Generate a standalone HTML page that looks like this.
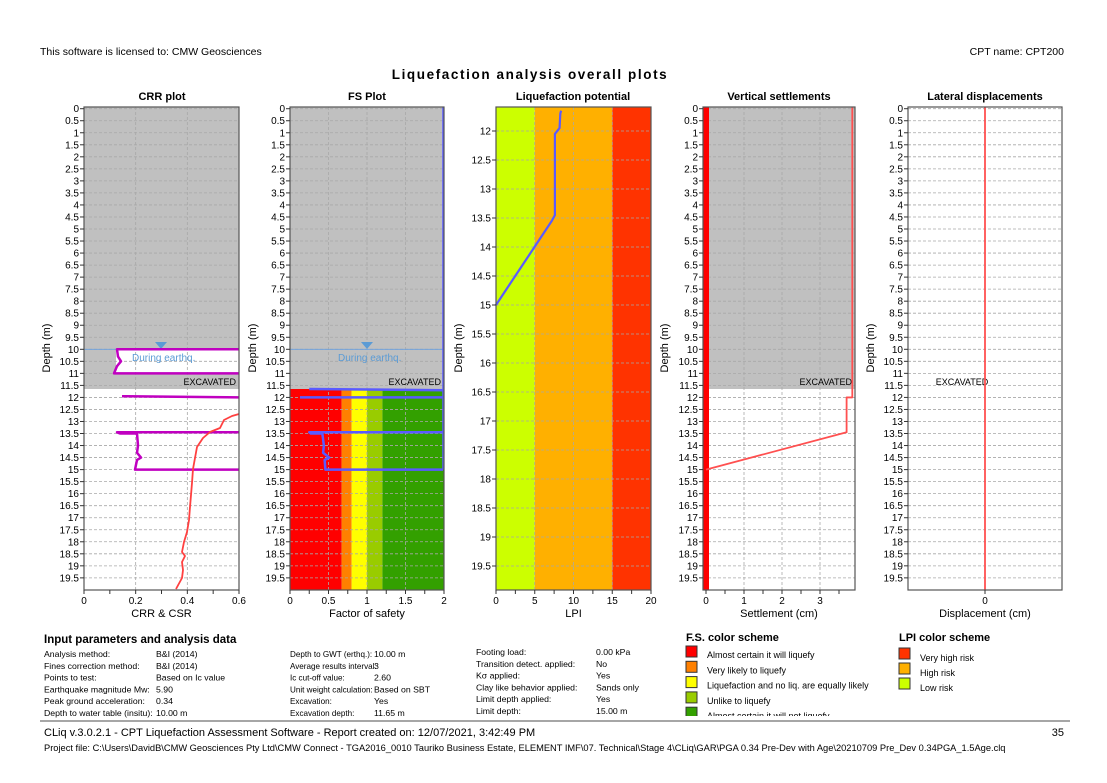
<!DOCTYPE html>
<html><head><meta charset="utf-8"><style>
html,body{margin:0;padding:0;background:#fff;}
svg{display:block;font-family:"Liberation Sans","DejaVu Sans",sans-serif;}
</style></head><body>
<svg id="s" width="1107" height="783" viewBox="0 0 1107 783" xmlns="http://www.w3.org/2000/svg">
<text x="40" y="55" font-size="10.5">This software is licensed to: CMW Geosciences</text>
<text x="1064" y="55" font-size="10.5" text-anchor="end">CPT name: CPT200</text>
<text x="530" y="79" font-size="13.5" font-weight="bold" text-anchor="middle" letter-spacing="1.6">Liquefaction analysis overall plots</text>
<g id="g"></g>
<g font-size="10">
<text x="44" y="643" font-size="11.5" font-weight="bold">Input parameters and analysis data</text>
<g id="params"></g>
<text x="686" y="641" font-size="11" font-weight="bold">F.S. color scheme</text>
<text x="899" y="641" font-size="11" font-weight="bold">LPI color scheme</text>
</g>
<line x1="40" y1="721" x2="1070" y2="721" stroke="#888" stroke-width="1.5"/>
<text x="44" y="736" font-size="11">CLiq v.3.0.2.1 - CPT Liquefaction Assessment Software - Report created on: 12/07/2021, 3:42:49 PM</text>
<text x="1064" y="736" font-size="11" text-anchor="end">35</text>
<text x="44" y="751" font-size="9.3">Project file: C:\Users\DavidB\CMW Geosciences Pty Ltd\CMW Connect - TGA2016_0010 Tauriko Business Estate, ELEMENT IMF\07. Technical\Stage 4\CLiq\GAR\PGA 0.34 Pre-Dev with Age\20210709 Pre_Dev 0.34PGA_1.5Age.clq</text>
</svg>
<script>
const NS="http://www.w3.org/2000/svg";
const G=document.getElementById('g');
function el(t,a,p){const e=document.createElementNS(NS,t);for(const k in a)e.setAttribute(k,a[k]);(p||G).appendChild(e);return e;}
function tx(x,y,s,a){const e=el('text',Object.assign({x:x,y:y,'font-size':10},a||{}));e.textContent=s;return e;}
const T=107,B=590;
function yd(d){return 108.7+24.06*d;}
function yl(d){return 131+58*(d-12);}
function grid(L,R,xt,xmap,ymap,dmin,dmax){
  for(let d=dmin;d<=dmax+1e-6;d+=0.5){const y=ymap(d);if(y<T+1)continue;
    el('line',{x1:L,x2:R,y1:y,y2:y,stroke:'#a8a8a8','stroke-dasharray':'3,2','stroke-width':0.8});}
  xt.forEach(v=>{const x=xmap(v);if(x>L+1&&x<R-1)el('line',{x1:x,x2:x,y1:T,y2:B,stroke:'#a8a8a8','stroke-dasharray':'3,2','stroke-width':0.8});});
}
function frame(L,R,xt,xlabs,xlabel,xmap,ymap,dmin,dmax,ytl){
  el('rect',{x:L,y:T,width:R-L,height:B-T,fill:'none',stroke:'#555','stroke-width':1.2});
  for(let d=dmin;d<=dmax+1e-6;d+=0.5){const y=ymap(d);if(y<T-2)continue;
    el('line',{x1:L-4,x2:L,y1:y,y2:y,stroke:'#333'});
    tx(L-5,y+3.5,String(Math.round(d*10)/10),{'text-anchor':'end'});}
  xt.forEach((v,i)=>{const x=xmap(v);el('line',{x1:x,x2:x,y1:B,y2:B+4,stroke:'#333'});
    if(xlabs[i]!==null) tx(x,604,xlabs[i],{'text-anchor':'middle'});});
  tx((L+R)/2,617,xlabel,{'text-anchor':'middle','font-size':11});
  tx(0,0,'Depth (m)',{'font-size':11,'text-anchor':'middle',transform:'translate('+ytl+',348) rotate(-90)'});
}
function pl(pts,c,w){el('polyline',{points:pts.map(p=>p.join(',')).join(' '),fill:'none',stroke:c,'stroke-width':w,'stroke-linejoin':'round'});}
// CRR
let L=84,R=239,xm=v=>L+v/0.6*(R-L);
tx(162,100,'CRR plot',{'text-anchor':'middle','font-weight':'bold','font-size':11});
el('rect',{x:L,y:T,width:R-L,height:yd(11.65)-T,fill:'#c0c0c0'});
el('rect',{x:116,y:yd(10)+1,width:R-116,height:yd(11)-yd(10)-2,fill:'#fff'});
grid(L,R,[0.2,0.4],xm,yd,0,19.5);
el('line',{x1:L,x2:R,y1:yd(10),y2:yd(10),stroke:'#6aa0e0','stroke-width':0.8});
el('polygon',{points:'155,342 167,342 161,349',fill:'#5b9bd5'});
tx(132,361,'During earthq.',{'font-size':10,fill:'#5b9bd5'});
tx(236,385,'EXCAVATED',{'font-size':9,'text-anchor':'end'});
pl([[239,yd(10)],[117,yd(10)],[118,yd(10.3)],[121,yd(10.5)],[117,yd(10.7)],[114,yd(11)],[239,yd(11)]],'#c000c0',2.5);
pl([[122,yd(11.95)],[239,yd(12)]],'#c000c0',2.5);
pl([[239,yd(13.45)],[117,yd(13.45)],[120,yd(13.5)],[137,yd(13.5)],[138,yd(14)],[137,yd(14.3)],[141,yd(14.5)],[137,yd(14.6)],[135,yd(15)],[239,yd(15)]],'#c000c0',2.5);
pl([[239,414],[232,416],[224,420],[220,428],[210,432],[203,438],[197,447],[195,458],[193,469],[192,483],[191,495],[190,507],[189,520],[187,532],[184,542],[182,552],[185,556],[182,562],[183,570],[182,578],[176,589]],'#ff4040',1.8);
frame(L,R,[0,0.1,0.2,0.3,0.4,0.5,0.6],['0',null,'0.2',null,'0.4',null,'0.6'],'CRR & CSR',xm,yd,0,19.5,50);
// FS
L=290;R=444;let fm=v=>L+v/2*(R-L);
tx(367,100,'FS Plot',{'text-anchor':'middle','font-weight':'bold','font-size':11});
el('rect',{x:L,y:T,width:R-L,height:yd(11.65)-T,fill:'#c0c0c0'});
[[0,0.67,'#ff0000'],[0.67,0.8,'#ff8000'],[0.8,1,'#ffff00'],[1,1.2,'#99cc00'],[1.2,2,'#33a000']].forEach(c=>el('rect',{x:fm(c[0]),y:yd(11.65),width:fm(c[1])-fm(c[0]),height:B-yd(11.65),fill:c[2]}));
grid(L,R,[0.5,1,1.5],fm,yd,0,19.5);
el('line',{x1:L,x2:R,y1:yd(10),y2:yd(10),stroke:'#6aa0e0','stroke-width':0.8});
el('polygon',{points:'361,342 373,342 367,349',fill:'#5b9bd5'});
tx(338,361,'During earthq.',{'font-size':10,fill:'#5b9bd5'});
tx(441,385,'EXCAVATED',{'font-size':9,'text-anchor':'end'});
const bl='#5a5aff';
pl([[443,T],[443,yd(15)]],bl,1.5);
pl([[fm(0.25),yd(11.65)],[443,yd(11.7)]],bl,2.5);
pl([[fm(0.13),yd(12)],[443,yd(12)]],bl,2.5);
pl([[443,yd(13.45)],[fm(0.25),yd(13.45)],[fm(0.27),yd(13.5)],[fm(0.42),yd(13.5)],[fm(0.44),yd(14)],[fm(0.43),yd(14.3)],[fm(0.51),yd(14.5)],[fm(0.45),yd(14.6)],[fm(0.46),yd(15)],[443,yd(15)]],bl,2.5);
frame(L,R,[0,0.25,0.5,0.75,1,1.25,1.5,1.75,2],['0',null,'0.5',null,'1',null,'1.5',null,'2'],'Factor of safety',fm,yd,0,19.5,256);
// LPI
L=496;R=651;let lm=v=>L+v/20*(R-L);
tx(573,100,'Liquefaction potential',{'text-anchor':'middle','font-weight':'bold','font-size':11});
[[0,5,'#ccff00'],[5,15,'#ffb000'],[15,20,'#ff3300']].forEach(c=>el('rect',{x:lm(c[0]),y:T,width:lm(c[1])-lm(c[0]),height:B-T,fill:c[2]}));
grid(L,R,[5,10,15],lm,yl,12,19.5);
pl([[lm(8.4),yl(11.65)],[lm(8.3),yl(11.7)],[lm(8.2),yl(11.95)],[lm(7.6),yl(12.05)],[lm(7.6),yl(13.45)],[lm(7.2),yl(13.55)],[lm(0),yl(15)]],bl,2.2);
frame(L,R,[0,2.5,5,7.5,10,12.5,15,17.5,20],['0',null,'5',null,'10',null,'15',null,'20'],'LPI',lm,yl,12,19.5,462);
// Settlement
L=703;R=855;let sm=v=>706+38*v;
tx(779,100,'Vertical settlements',{'text-anchor':'middle','font-weight':'bold','font-size':11});
el('rect',{x:L,y:T,width:R-L,height:yd(11.65)-T,fill:'#c0c0c0'});
grid(L,R,[1,2,3],sm,yd,0,19.5);
tx(852,385,'EXCAVATED',{'font-size':9,'text-anchor':'end'});
el('rect',{x:703,y:T,width:6,height:B-T,fill:'#ff0000'});
pl([[sm(3.85),T],[sm(3.85),yd(12)],[sm(3.7),yd(12)],[sm(3.7),yd(13.45)],[sm(0),yd(15)]],'#ff5050',1.8);
frame(L,R,[0,0.5,1,1.5,2,2.5,3,3.5],['0',null,'1',null,'2',null,'3',null],'Settlement (cm)',sm,yd,0,19.5,668);
// Lateral
L=908;R=1062;
tx(985,100,'Lateral displacements',{'text-anchor':'middle','font-weight':'bold','font-size':11});
grid(L,R,[],x=>x,yd,0,19.5);
tx(962,385,'EXCAVATED',{'font-size':9,'text-anchor':'middle'});
el('line',{x1:985,x2:985,y1:T,y2:B,stroke:'#ff5050','stroke-width':1.8});
frame(L,R,[985],[null],'Displacement (cm)',x=>x,yd,0,19.5,874);
tx(985,604,'0',{'text-anchor':'middle'});
// params
const P=document.getElementById('params');
const rows=[['Analysis method:','B&I (2014)','Depth to GWT (erthq.):','10.00 m','Footing load:','0.00 kPa'],
['Fines correction method:','B&I (2014)','Average results interval:','3','Transition detect. applied:','No'],
['Points to test:','Based on Ic value','Ic cut-off value:','2.60','K\u03C3 applied:','Yes'],
['Earthquake magnitude Mw:','5.90','Unit weight calculation:','Based on SBT','Clay like behavior applied:','Sands only'],
['Peak ground acceleration:','0.34','Excavation:','Yes','Limit depth applied:','Yes'],
['Depth to water table (insitu):','10.00 m','Excavation depth:','11.65 m','Limit depth:','15.00 m']];
const xs=[44,156,290,374,476,596];
rows.forEach((r,i)=>r.forEach((s,j)=>{const e=el('text',{x:xs[j],y:657+i*11.8-(j>=4?2:0),'font-size':(j==2?8.1:8.7)},P);e.textContent=s;}));
const fs=[['#ff0000','Almost certain it will liquefy'],['#ff8000','Very likely to liquefy'],['#ffff00','Liquefaction and no liq. are equally likely'],['#99cc00','Unlike to liquefy'],['#33a000','Almost certain it will not liquefy']];
fs.forEach((c,i)=>{el('rect',{x:686,y:646+i*15.3,width:11,height:11,fill:c[0],stroke:'#333'},P);const e=el('text',{x:707,y:658+i*15.3,'font-size':9},P);e.textContent=c[1];});
const lp=[['#ff3300','Very high risk'],['#ffb000','High risk'],['#ccff00','Low risk']];
lp.forEach((c,i)=>{el('rect',{x:899,y:648+i*15,width:11,height:11,fill:c[0],stroke:'#333'},P);const e=el('text',{x:920,y:661+i*15,'font-size':9},P);e.textContent=c[1];});
el('rect',{x:680,y:716,width:400,height:5,fill:'#fff'},P);
</script>
</body></html>
